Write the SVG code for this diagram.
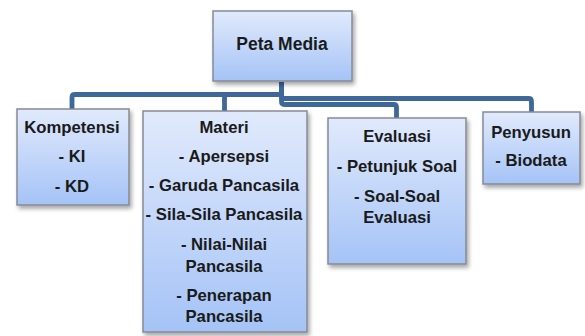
<svg xmlns="http://www.w3.org/2000/svg" width="585" height="336" viewBox="0 0 585 336">
<defs>
<linearGradient id="g" x1="0" y1="0" x2="0" y2="1">
<stop offset="0" stop-color="#e1eafc"/>
<stop offset="1" stop-color="#a5c3f7"/>
</linearGradient>
<filter id="sh" x="-10%" y="-10%" width="130%" height="130%">
<feDropShadow dx="2" dy="3" stdDeviation="2" flood-color="#000" flood-opacity="0.35"/>
</filter>
</defs>
<style>
.box{fill:url(#g);stroke:#868a94;stroke-width:1.5;filter:url(#sh)}
.t{font-family:"Liberation Sans",Arial,sans-serif;font-weight:bold;font-size:16.7px;fill:#1a1a1a;text-anchor:middle}
.c{fill:none;stroke:#3d6899;stroke-width:4.8;stroke-linejoin:round}
</style>
<rect width="585" height="336" fill="#fff"/>
<g id="connectors">
<path class="c" d="M281.5 82 V91.5 Q281.5 94.5 278.5 94.5 H75 Q72 94.5 72 97.5 V109"/>
<path class="c" d="M281.5 82 V91.5 Q281.5 94.5 278.5 94.5 H227.5 Q224.5 94.5 224.5 97.5 V111"/>
<path class="c" d="M281.5 82 V95.5 Q281.5 98.5 284.5 98.5 H528.5 Q531.5 98.5 531.5 101.5 V112"/>
<path class="c" d="M281.5 82 V101.5 Q281.5 104.5 284.5 104.5 H393.5 Q396.5 104.5 396.5 107.5 V118"/>
</g>
<g id="peta-media">
<rect class="box" x="213" y="11" width="139" height="70"/>
<text class="t" x="282" y="50" style="font-size:17.5px">Peta Media</text>
</g>
<g id="kompetensi">
<rect class="box" x="17" y="109" width="112" height="96"/>
<text class="t" x="72" y="132.5">Kompetensi</text>
<text class="t" x="72" y="161.5">- KI</text>
<text class="t" x="72" y="191.5">- KD</text>
</g>
<g id="materi">
<rect class="box" x="143" y="111" width="164" height="221"/>
<text class="t" x="224" y="132.5">Materi</text>
<text class="t" x="224" y="161.5">- Apersepsi</text>
<text class="t" x="224" y="190.5">- Garuda Pancasila</text>
<text class="t" x="224" y="220">- Sila-Sila Pancasila</text>
<text class="t" x="224" y="249.5">- Nilai-Nilai</text>
<text class="t" x="224" y="271.5">Pancasila</text>
<text class="t" x="224" y="300.5">- Penerapan</text>
<text class="t" x="224" y="321.5">Pancasila</text>
</g>
<g id="evaluasi">
<rect class="box" x="328" y="118" width="138" height="146"/>
<text class="t" x="397" y="141.5">Evaluasi</text>
<text class="t" x="397" y="171.5">- Petunjuk Soal</text>
<text class="t" x="397" y="201.5">- Soal-Soal</text>
<text class="t" x="397" y="222.5">Evaluasi</text>
</g>
<g id="penyusun">
<rect class="box" x="483" y="112" width="97" height="72"/>
<text class="t" x="531" y="137.5">Penyusun</text>
<text class="t" x="531" y="166">- Biodata</text>
</g>
</svg>
